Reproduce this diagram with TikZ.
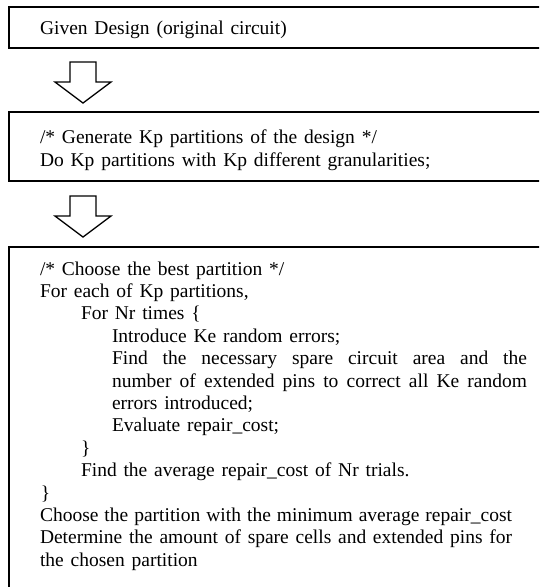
\documentclass[tikz,border=0pt]{standalone}
\usepackage{fontspec}
\setmainfont[WordSpace=1.4]{Liberation Serif}
\begin{document}
\begin{tikzpicture}[x=1pt,y=-1pt,
  box/.style={draw=black,line width=1.8pt},
  arrowline/.style={draw=black,line width=1.3pt,fill=white,line join=miter},
  txt/.style={anchor=base west,inner sep=0pt,outer sep=0pt,font=\fontsize{19.5}{22}\selectfont},
  blockarrow/.pic={\path[arrowline] (-13,0) -- (13,0) -- (13,20) -- (28,20) -- (0,41) -- (-28,20) -- (-13,20) -- cycle;}
]
\useasboundingbox (0,0) rectangle (539,587);
\clip (0,0) rectangle (539,587);
\fill[white] (0,0) rectangle (539,587);
% boxes
\draw[box] (9,7) rectangle (560,48);
\draw[box] (9,112) rectangle (560,181);
\draw[box] (9,247) rectangle (560,620);
% arrows
\pic at (83,62) {blockarrow};
\pic at (83,196) {blockarrow};
% box 1
\node[txt] (g1) at (40,34) {Given Design (original circuit)};
% box 2
\node[txt] (p1) at (40,143) {/* Generate Kp partitions of the design */};
\node[txt] (p2) at (40,166) {Do Kp partitions with Kp different granularities;};
% box 3
\node[txt] (c1) at (40,275) {/* Choose the best partition */};
\node[txt] (c2) at (40,297.4) {For each of Kp partitions,};
\node[txt] (c3) at (81,319.8) {For Nr times \{};
\node[txt] (c4) at (112,342.2) {Introduce Ke random errors;};
\node[txt] (c5) at (112,364.6) {\makebox[415pt][s]{Find the necessary spare circuit area and the}};
\node[txt] (c6) at (112,387.0) {\makebox[415pt][s]{number of extended pins to correct all Ke random}};
\node[txt] (c7) at (112,409.4) {errors introduced;};
\node[txt] (c8) at (112,431.8) {Evaluate repair\_cost;};
\node[txt] (c9) at (81,454.2) {\}};
\node[txt] (c10) at (81,476.6) {Find the average repair\_cost of Nr trials.};
\node[txt] (c11) at (41,499.0) {\}};
\node[txt] (c12) at (40,521.4) {\makebox[472pt][s]{Choose the partition with the minimum average repair\_cost}};
\node[txt] (c13) at (40,543.8) {\makebox[472pt][s]{Determine the amount of spare cells and extended pins for}};
\node[txt] (c14) at (40,566.2) {the chosen partition};
\end{tikzpicture}
\end{document}
